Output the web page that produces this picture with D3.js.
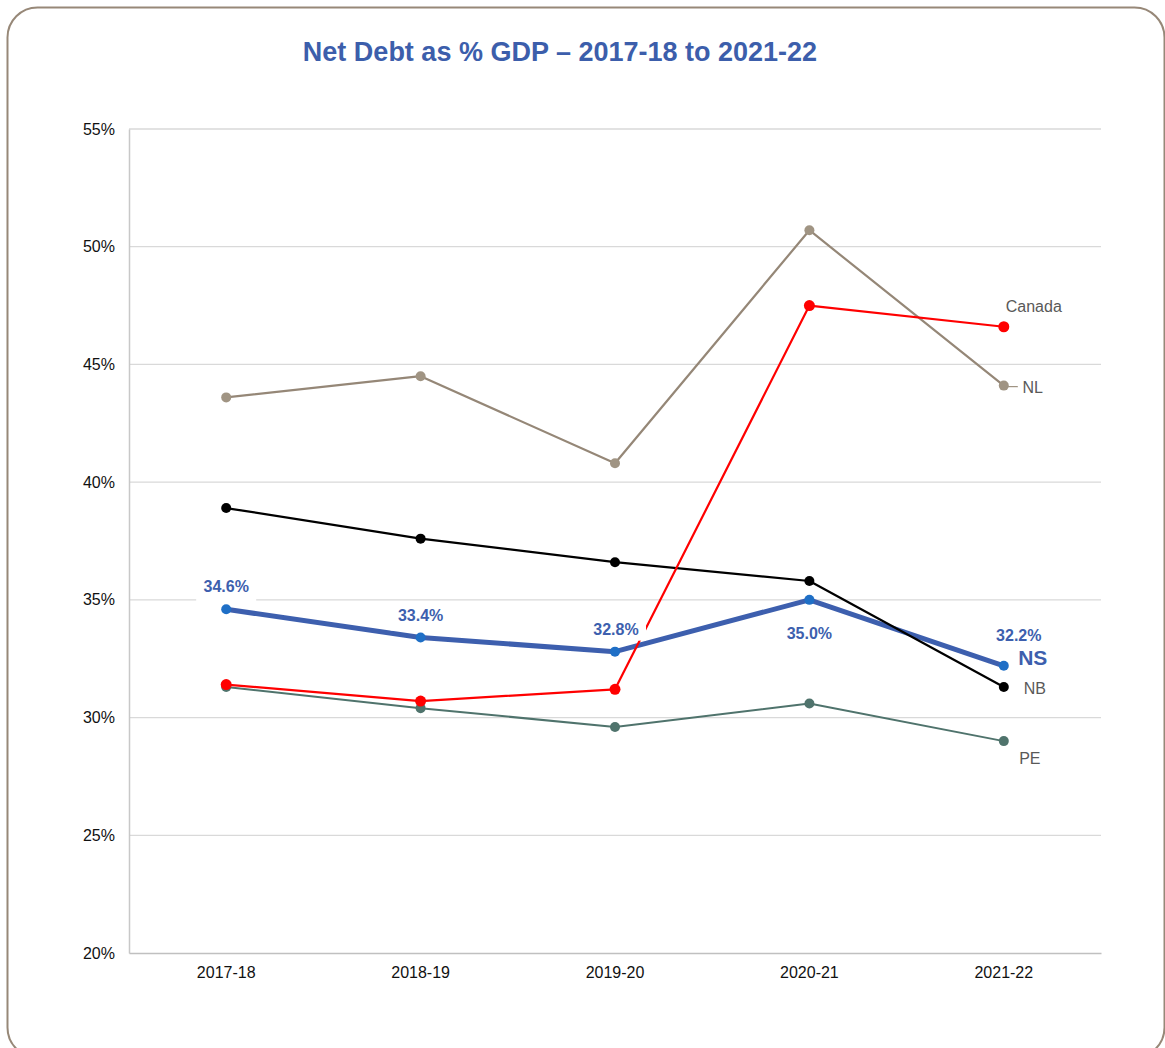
<!DOCTYPE html>
<html>
<head>
<meta charset="utf-8">
<script src="https://cdn.jsdelivr.net/npm/d3@7"></script>
<style>
  html, body { margin: 0; padding: 0; background: #fff; }
  svg { display: block; font-family: "Liberation Sans", Arial, sans-serif; }
</style>
</head>
<body>
<svg id="chart" width="1165" height="1048"></svg>
<script>
// Fiscal years on the x axis
const years = ["2017-18", "2018-19", "2019-20", "2020-21", "2021-22"];

// Net debt as a share of GDP (%)
const nlValues = [43.6, 44.5, 40.8, 50.7, 44.1];
const canadaValues = [31.4, 30.7, 31.2, 47.5, 46.6];
const nbValues = [38.9, 37.6, 36.6, 35.8, 31.3];
const peValues = [31.3, 30.4, 29.6, 30.6, 29.0];
const nsValues = [34.6, 33.4, 32.8, 35.0, 32.2];

// Y axis ticks (%)
const yTicks = [20, 25, 30, 35, 40, 45, 50, 55];

const svg = d3.select("#chart");
const plot = { left: 129, right: 1101, top: 129, bottom: 953 };

// Outer rounded frame
svg.append("rect")
  .attr("x", 7.5).attr("y", 7.5)
  .attr("width", 1157).attr("height", 1050)
  .attr("rx", 30).attr("ry", 30)
  .attr("fill", "#fff")
  .attr("stroke", "#978878")
  .attr("stroke-width", 2);

// Title
svg.append("text")
  .attr("x", 560).attr("y", 61)
  .attr("text-anchor", "middle")
  .attr("font-size", 27)
  .attr("font-weight", "bold")
  .attr("fill", "#3c5eab")
  .text("Net Debt as % GDP \u2013 2017-18 to 2021-22");

const x = d3.scaleBand().domain(years).range([plot.left, plot.right]).padding(0);
const cx = d => x(d) + x.bandwidth() / 2;
const y = d3.scaleLinear().domain([20, 55]).range([plot.bottom, plot.top]);

// Horizontal gridlines
svg.append("g")
  .selectAll("line")
  .data(yTicks.filter(t => t > 20))
  .join("line")
  .attr("x1", plot.left).attr("x2", plot.right)
  .attr("y1", d => y(d)).attr("y2", d => y(d))
  .attr("stroke", "#d9d9d9").attr("stroke-width", 1.3);

// Y axis
const yAxis = svg.append("g")
  .attr("transform", `translate(${plot.left},0)`)
  .call(d3.axisLeft(y).tickValues(yTicks).tickFormat(d => d + "%").tickSize(0).tickPadding(14));
yAxis.select(".domain").attr("stroke", "#c8c8c8").attr("stroke-width", 1.5);
yAxis.selectAll("text")
  .attr("font-size", 16).attr("fill", "#111")
  .attr("font-family", "Liberation Sans, Arial, sans-serif");

// X axis
const xAxis = svg.append("g")
  .attr("transform", `translate(0,${plot.bottom})`)
  .call(d3.axisBottom(x).tickSize(0).tickPadding(14));
xAxis.select(".domain").attr("stroke", "#c0c0c0").attr("stroke-width", 1.5);
xAxis.selectAll("text")
  .attr("font-size", 16).attr("fill", "#111")
  .attr("font-family", "Liberation Sans, Arial, sans-serif");

const line = d3.line().x((d, i) => cx(years[i])).y(d => y(d));

function drawSeries(values, color, width, markerColor, r) {
  const g = svg.append("g");
  g.append("path")
    .datum(values)
    .attr("d", line)
    .attr("fill", "none")
    .attr("stroke", color)
    .attr("stroke-width", width)
    .attr("stroke-linejoin", "round");
  g.selectAll("circle")
    .data(values)
    .join("circle")
    .attr("cx", (d, i) => cx(years[i]))
    .attr("cy", d => y(d))
    .attr("r", r)
    .attr("fill", markerColor);
  return g;
}

drawSeries(peValues, "#4f736c", 2, "#4f736c", 5);
drawSeries(nlValues, "#958777", 2.2, "#a09483", 5);
drawSeries(nsValues, "#3d5fae", 5, "#1f6fc6", 5);
drawSeries(nbValues, "#000", 2.2, "#000", 5);
drawSeries(canadaValues, "#ff0000", 2.2, "#ff0000", 5.5);

// NS data labels (white backing box, kept clear of the NS line itself)
const nsOffsets = [-21, -21, -21, 35, -29];
const nsDx = [0, 0, 1, 0, 15];
const labels = svg.append("g");
nsValues.forEach((v, i) => {
  const lx = cx(years[i]) + nsDx[i];
  const ly = y(v) + nsOffsets[i];
  const boxBottom = i === 2 ? 10 : 14;
  labels.append("rect")
    .attr("x", lx - 30).attr("y", ly - 12)
    .attr("width", 60).attr("height", 12 + boxBottom)
    .attr("fill", "#fff");
  labels.append("text")
    .attr("x", lx).attr("y", ly)
    .attr("text-anchor", "middle")
    .attr("dominant-baseline", "middle")
    .attr("font-size", 16).attr("font-weight", "bold")
    .attr("fill", "#3d5fae")
    .text(v.toFixed(1) + "%");
});

// Series name labels at the right end
const last = years[years.length - 1];
const endX = cx(last);

svg.append("line")
  .attr("x1", endX + 4).attr("x2", endX + 14)
  .attr("y1", y(nlValues[4]) + 1).attr("y2", y(nlValues[4]) + 1)
  .attr("stroke", "#a09483").attr("stroke-width", 1.2);

const nameLabels = [
  { text: "Canada", dx: 30, dy: -19, size: 16, weight: "normal", color: "#595959" },
  { text: "NL", dx: 29, dy: 3, size: 16, weight: "normal", color: "#595959" },
  { text: "NS", dx: 29, dy: -6, size: 21, weight: "bold", color: "#3d5fae" },
  { text: "NB", dx: 31, dy: 3, size: 16, weight: "normal", color: "#595959" },
  { text: "PE", dx: 26, dy: 19, size: 16, weight: "normal", color: "#595959" }
];
const nameValues = [canadaValues[4], nlValues[4], nsValues[4], nbValues[4], peValues[4]];
nameLabels.forEach((lab, i) => {
  svg.append("text")
    .attr("x", endX + lab.dx)
    .attr("y", y(nameValues[i]) + lab.dy)
    .attr("text-anchor", "middle")
    .attr("font-size", lab.size)
    .attr("font-weight", lab.weight)
    .attr("fill", lab.color)
    .attr("dominant-baseline", "middle")
    .text(lab.text);
});
</script>
</body>
</html>
